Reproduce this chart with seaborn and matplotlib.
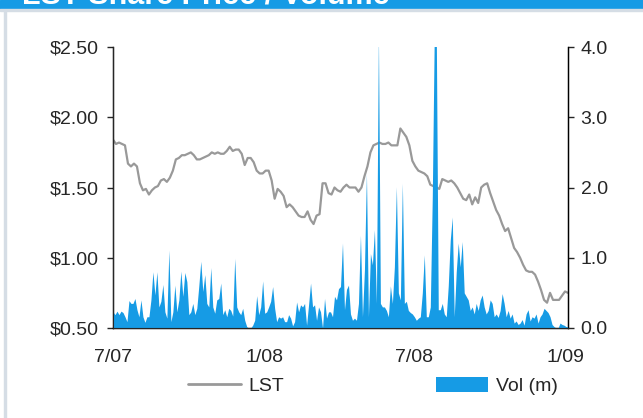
import pandas as pd
import matplotlib
matplotlib.use('Agg')
import matplotlib.pyplot as plt
from matplotlib.patches import Rectangle, Patch
from matplotlib.lines import Line2D
import seaborn as sns

# LST share price ($), sampled evenly from early Jul 2007 to early Jan 2009
price = [
    1.84, 1.81, 1.82, 1.81, 1.80, 1.67, 1.65, 1.67, 1.65, 1.53,
    1.48, 1.49, 1.45, 1.48, 1.50, 1.51, 1.55, 1.56, 1.54, 1.57,
    1.62, 1.70, 1.71, 1.73, 1.73, 1.74, 1.75, 1.73, 1.70, 1.70,
    1.71, 1.72, 1.73, 1.75, 1.74, 1.75, 1.74, 1.74, 1.76, 1.79,
    1.76, 1.77, 1.77, 1.74, 1.66, 1.71, 1.71, 1.68, 1.62, 1.60,
    1.60, 1.62, 1.62, 1.55, 1.42, 1.49, 1.47, 1.44, 1.36, 1.38,
    1.36, 1.33, 1.30, 1.29, 1.29, 1.33, 1.27, 1.24, 1.30, 1.31,
    1.53, 1.53, 1.46, 1.45, 1.50, 1.48, 1.47, 1.50, 1.52, 1.50,
    1.50, 1.50, 1.47, 1.50, 1.58, 1.65, 1.75, 1.80, 1.81, 1.82,
    1.81, 1.81, 1.82, 1.80, 1.80, 1.80, 1.92, 1.89, 1.86, 1.80,
    1.69, 1.65, 1.62, 1.61, 1.60, 1.58, 1.52, 1.51, 1.50, 1.49,
    1.56, 1.55, 1.54, 1.55, 1.53, 1.50, 1.46, 1.42, 1.41, 1.45,
    1.38, 1.43, 1.39, 1.50, 1.52, 1.53, 1.46, 1.40, 1.34, 1.30,
    1.24, 1.19, 1.21, 1.14, 1.07, 1.04, 1.00, 0.95, 0.91, 0.90,
    0.90, 0.88, 0.83, 0.77, 0.70, 0.68, 0.75, 0.70, 0.70, 0.70,
    0.73, 0.76, 0.75,
]

# traded volume (millions of shares), same period, finer sampling
volume = [
    0.23, 0.19, 0.24, 0.19, 0.24, 0.22, 0.16, 0.09, 0.39, 0.35,
    0.35, 0.42, 0.26, 0.16, 0.40, 0.16, 0.08, 0.16, 0.16, 0.40,
    0.80, 0.47, 0.80, 0.30, 0.38, 0.62, 0.23, 0.14, 1.11, 0.09,
    0.23, 0.61, 0.23, 0.40, 0.81, 0.45, 0.79, 0.66, 0.19, 0.23,
    0.35, 0.19, 0.28, 0.60, 0.95, 0.52, 0.76, 0.35, 0.30, 0.86,
    0.30, 0.21, 0.40, 0.42, 0.64, 0.19, 0.26, 0.16, 0.28, 0.25,
    0.17, 0.99, 0.30, 0.23, 0.19, 0.28, 0.11, 0.02, 0.00, 0.00,
    0.04, 0.11, 0.46, 0.19, 0.30, 0.67, 0.21, 0.23, 0.30, 0.38,
    0.59, 0.28, 0.09, 0.16, 0.14, 0.16, 0.09, 0.09, 0.19, 0.14,
    0.03, 0.09, 0.37, 0.23, 0.33, 0.30, 0.35, 0.04, 0.33, 0.64,
    0.30, 0.33, 0.11, 0.30, 0.23, 0.00, 0.42, 0.14, 0.23, 0.23,
    0.16, 0.45, 0.40, 0.56, 0.59, 1.21, 0.26, 0.55, 0.61, 0.20,
    0.11, 0.14, 0.11, 0.35, 1.32, 0.16, 0.83, 2.20, 0.16, 1.06,
    0.90, 1.40, 0.35, 4.20, 0.35, 0.30, 0.30, 0.25, 0.16, 0.60,
    0.35, 0.87, 2.01, 0.50, 0.40, 2.06, 0.35, 0.38, 0.25, 0.22,
    0.20, 0.16, 0.11, 0.14, 0.16, 0.50, 1.04, 0.16, 0.16, 0.30,
    1.87, 4.20, 4.20, 0.26, 0.26, 0.35, 0.20, 0.16, 0.60, 1.25,
    1.58, 0.16, 0.80, 1.21, 0.87, 1.23, 0.50, 0.45, 0.40, 0.25,
    0.30, 0.20, 0.35, 0.25, 0.40, 0.47, 0.30, 0.20, 0.25, 0.40,
    0.35, 0.16, 0.20, 0.15, 0.25, 0.49, 0.35, 0.16, 0.25, 0.14,
    0.20, 0.07, 0.10, 0.05, 0.07, 0.12, 0.04, 0.20, 0.26, 0.10,
    0.16, 0.14, 0.20, 0.07, 0.16, 0.20, 0.28, 0.25, 0.22, 0.16,
    0.05, 0.02, 0.00, 0.00, 0.07, 0.05, 0.04, 0.02, 0.02,
]

start_date = '2007-07-01'
end_date = '2009-01-04'
tick_dates = ['2007-07-01', '2008-01-01', '2008-07-01', '2009-01-01']
tick_labels = ['7/07', '1/08', '7/08', '1/09']
price_ticks = [0.5, 1.0, 1.5, 2.0, 2.5]
price_labels = ['$0.50', '$1.00', '$1.50', '$2.00', '$2.50']
vol_ticks = [0.0, 1.0, 2.0, 3.0, 4.0]
vol_labels = ['0.0', '1.0', '2.0', '3.0', '4.0']

BLUE = '#169BE5'
GREY = '#999999'

price_df = pd.DataFrame({
    'date': pd.date_range(start_date, end_date, periods=len(price)),
    'price': price,
})
vol_df = pd.DataFrame({
    'date': pd.date_range(start_date, end_date, periods=len(volume)),
    'vol': volume,
})

sns.set_style('ticks')
plt.rcParams['font.family'] = ['Liberation Sans', 'DejaVu Sans']

fig = plt.figure(figsize=(6.43, 4.18), dpi=100)
W, H = 643, 418

# header band and frame lines
fig.patches.append(Rectangle((0, 1 - 8 / H), 1, 8 / H, transform=fig.transFigure,
                             color=BLUE, zorder=0))
fig.patches.append(Rectangle((0, 1 - 11 / H), 1, 2 / H, transform=fig.transFigure,
                             color='#D5DDE5', zorder=0))
fig.patches.append(Rectangle((4 / W, 0), 2 / W, 1 - 11 / H, transform=fig.transFigure,
                             color='#D5DDE5', zorder=0))
fig.text(22 / W, 1 - 3 / H, 'LST Share Price / Volume', color='white',
         fontsize=22, fontweight='bold', va='baseline', ha='left')

ax = fig.add_axes([113 / W, 1 - 328 / H, (568 - 113) / W, (328 - 47) / H])
sns.lineplot(data=price_df, x='date', y='price', ax=ax, color=GREY, linewidth=1.6)
ax.set_ylim(0.5, 2.5)
ax.set_xlim(pd.Timestamp(start_date), pd.Timestamp(end_date))
ax.set_yticks(price_ticks)
ax.set_yticklabels(price_labels)
ax.set_xticks(pd.to_datetime(tick_dates))
ax.set_xticklabels(tick_labels)
ax.set_xlabel('')
ax.set_ylabel('')
ax.tick_params(axis='x', length=0, pad=15, labelsize=14)
ax.tick_params(axis='y', length=4, width=1, pad=6, labelsize=14)
ax.spines['top'].set_visible(False)
for s in ['left', 'bottom', 'right']:
    ax.spines[s].set_color('black')
    ax.spines[s].set_linewidth(1)

ax2 = ax.twinx()
ax2.fill_between(vol_df['date'], vol_df['vol'], 0, color=BLUE, linewidth=0)
ax2.set_ylim(0, 4.0)
ax2.set_yticks(vol_ticks)
ax2.set_yticklabels(vol_labels)
ax2.tick_params(axis='y', length=4, width=1, pad=5, labelsize=14)
ax2.spines['top'].set_visible(False)
ax2.spines['right'].set_color('black')
ax2.set_xlim(pd.Timestamp(start_date), pd.Timestamp(end_date))

handles = [Line2D([], [], color=GREY, linewidth=2),
           Patch(facecolor=BLUE, edgecolor='none')]
fig.legend(handles, ['LST', 'Vol (m)'], loc='center', ncol=2,
           bbox_to_anchor=(373 / W, 1 - 386 / H), frameon=False, fontsize=14,
           handlelength=2.7, handleheight=0.8, handletextpad=0.4,
           columnspacing=7.8)

fig.savefig('out.png', dpi=100)
